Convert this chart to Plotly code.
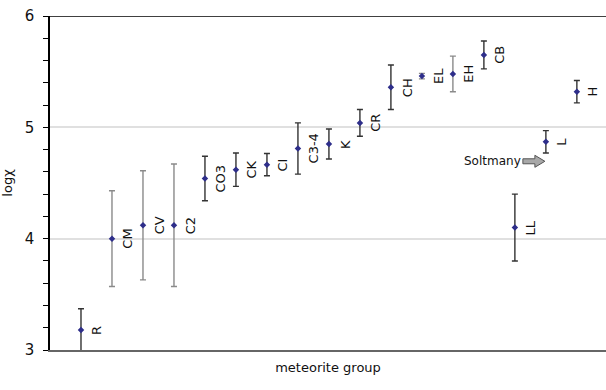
import plotly.graph_objects as go

groups = ["R", "CM", "CV", "C2", "CO3", "CK", "CI", "C3-4", "K", "CR",
          "CH", "EL", "EH", "CB", "LL", "L", "H"]
positions = list(range(1, 18))
logchi = [3.18, 4.00, 4.12, 4.12, 4.54, 4.62, 4.665, 4.81, 4.85, 5.04,
          5.36, 5.46, 5.48, 5.65, 4.10, 4.87, 5.32]
err = [0.19, 0.43, 0.49, 0.55, 0.20, 0.15, 0.10, 0.23, 0.135, 0.12,
       0.20, 0.025, 0.16, 0.125, 0.30, 0.10, 0.10]
light_err = ["CM", "CV", "C2", "EL", "EH"]
soltmany_label = "Soltmany"
soltmany_y = 4.695

fig = go.Figure()

dark_idx = [i for i, g in enumerate(groups) if g not in light_err]
lite_idx = [i for i, g in enumerate(groups) if g in light_err]
for idx, col in ((dark_idx, "#333333"), (lite_idx, "#8a8a8a")):
    fig.add_trace(go.Scatter(
        x=[positions[i] for i in idx], y=[logchi[i] for i in idx],
        mode="markers",
        marker=dict(symbol="diamond", size=5, color="#2e2e8a"),
        error_y=dict(type="data", array=[err[i] for i in idx], symmetric=True,
                     color=col, thickness=1.4, width=3),
        showlegend=False, cliponaxis=True,
    ))

for g, p, v in zip(groups, positions, logchi):
    fig.add_annotation(x=p, y=v, xref="x", yref="y", text=g, showarrow=False,
                       textangle=-90, xshift=16,
                       font=dict(family="DejaVu Sans", size=13, color="#111"))

L_pos = positions[groups.index("L")]
fig.add_annotation(x=L_pos, y=soltmany_y, xref="x", yref="y", text=soltmany_label,
                   showarrow=False, xanchor="right", xshift=-23,
                   font=dict(family="DejaVu Sans", size=12, color="#111"))
fig.add_shape(type="path", xref="x", yref="y", xsizemode="pixel", ysizemode="pixel",
              xanchor=L_pos, yanchor=soltmany_y,
              path="M -23,-2.5 L -11,-2.5 L -11,-6 L -1,0 L -11,6 L -11,2.5 L -23,2.5 Z",
              fillcolor="#a8a8a8", line=dict(color="#555555", width=1))

# top border
fig.add_shape(type="line", xref="paper", yref="y", x0=0, x1=1, y0=6, y1=6,
              line=dict(color="#000", width=1.5))

fig.update_layout(
    width=606, height=390,
    margin=dict(l=50, r=0, t=16, b=40),
    paper_bgcolor="white", plot_bgcolor="white",
    font=dict(family="DejaVu Sans", color="#111"),
    xaxis=dict(range=[0, 17.94], showticklabels=False, showgrid=False, zeroline=False,
               showline=True, linecolor="#666", linewidth=1.5, ticks="",
               title=dict(text="meteorite group", font=dict(size=13), standoff=12)),
    yaxis=dict(range=[3, 6], dtick=1, tick0=3, showgrid=True, gridcolor="#e0e0e0",
               gridwidth=1.5, zeroline=False, showline=True, linecolor="#000",
               linewidth=1.5, ticks="outside", ticklen=5, tickcolor="#000",
               tickfont=dict(size=15), ticklabelstandoff=6,
               minor=dict(dtick=0.2, ticks="outside", ticklen=5, tickcolor="#000",
                          showgrid=False),
               title=dict(text="logχ", font=dict(size=13), standoff=12)),
)

fig.write_html("out.html")
